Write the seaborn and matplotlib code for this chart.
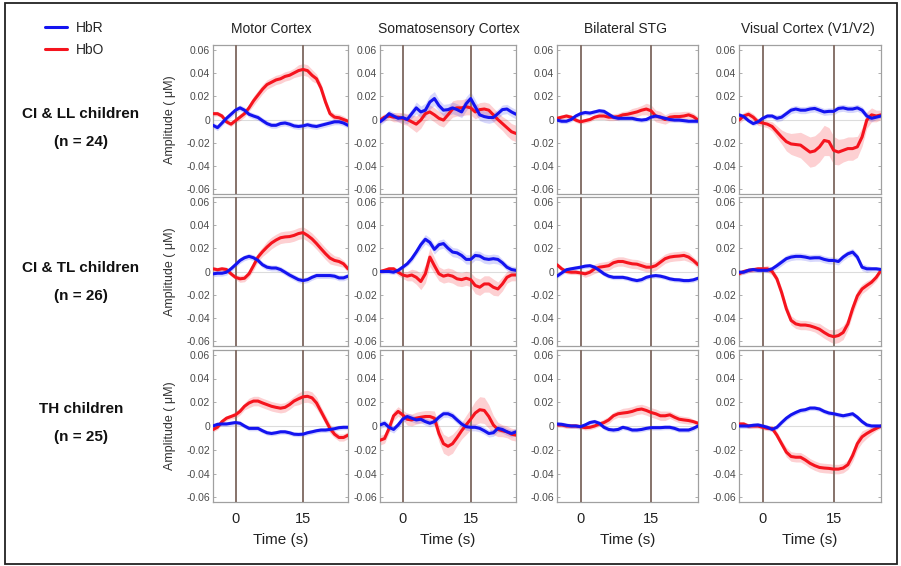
import numpy as np
import pandas as pd
import matplotlib
matplotlib.use('Agg')
import matplotlib.pyplot as plt
import seaborn as sns
from matplotlib.lines import Line2D
from matplotlib.patches import Rectangle

# time axis (s)
time_s = [-5, -4, -3, -2, -1, 0, 1, 2, 3, 4, 5, 6, 7, 8, 9, 10, 11, 12, 13, 14,
          15, 16, 17, 18, 19, 20, 21, 22, 23, 24, 25]

regions = ['Motor Cortex', 'Somatosensory Cortex', 'Bilateral STG', 'Visual Cortex (V1/V2)']
groups = ['CI & LL children', 'CI & TL children', 'TH children']
group_n = ['(n = 24)', '(n = 26)', '(n = 25)']

# all amplitudes below in 1e-3 uM (mean and standard error)
# --- CI & LL children
motor_ll_hbo = [5, 5, 3, -2, -4, -1, 2, 5, 10, 16, 21, 26, 30, 32, 34, 35, 37, 38, 40, 42, 43, 42, 38, 35, 27, 15, 5, 2, 1.5, 0, -1.5]
motor_ll_hbr = [-5, -7, -3, 1, 4.5, 8, 10, 8, 4.5, 3, 1.7, -1, -3.5, -5, -5, -3.5, -3, -4, -5.5, -6, -5.5, -4.5, -5.5, -6, -5, -4, -3, -2, -2, -3, -5]
motor_ll_hbo_se = [2, 2, 2, 2, 2, 2, 3, 3, 3, 4, 4, 4, 4, 4, 4, 4, 4, 4, 4, 5, 5, 5, 5, 4, 4, 4, 3, 3, 3, 3, 2]
motor_ll_hbr_se = [2.5, 2.5, 2.5, 2.5, 2.5, 2.5, 2.5, 2.5, 2.5, 2.5, 2.5, 2.5, 2.5, 2.5, 2.5, 2.5, 2.5, 2.5, 2.5, 2.5, 2.5, 2.5, 2.5, 2.5, 2.5, 2.5, 2.5, 2.5, 2.5, 2.5, 2.5]

soma_ll_hbo = [-0.5, 2, 3, 2, 2, 1, 0, -2, -4, -0.5, 5, 6.5, 4, 1, -0.5, 4, 9, 10, 10, 11, 10, 6.5, 8.5, 9, 8, 4, 0, -3.5, -7, -10.5, -12]
soma_ll_hbr = [-2, 1, 5, 3, 1, 1.7, 0, 5, 10, 6.5, 8, 15, 18, 12, 8, 8.5, 10, 8.5, 6.5, 13.5, 18, 11, 4, 2.5, 1.7, 1.7, 5, 8.5, 9, 6.5, 4.5]
soma_ll_hbo_se = [3, 3, 3, 4, 4, 5, 5, 6, 7, 7, 6, 6, 6, 6, 6, 6, 7, 7, 7, 7, 6, 6, 6, 6, 6, 6, 6, 6, 7, 7, 7]
soma_ll_hbr_se = [3, 3, 3, 3, 3, 4, 4, 4, 5, 5, 6, 6, 6, 5, 5, 5, 5, 5, 5, 6, 6, 6, 5, 5, 5, 4, 4, 4, 4, 4, 4]

stg_ll_hbo = [1, 2, 3, 2, -0.5, -2, -1, 0, 2, 3, 3, 2, 2, 2.5, 4, 4.5, 5.5, 6.5, 8, 9, 7.5, 3, 2, 0, 2, 2.5, 2.5, 3, 4, 2.5, -0.5]
stg_ll_hbr = [-0.5, -1.5, -1.5, 0, 3, 5, 6, 5.5, 6.5, 7.5, 7, 4.5, 2, 1, 1, 1, 1, 0, -0.5, 0, 2, 3, 2, 1, 0, -0.5, -0.5, -1, -1.5, -1.5, -1.5]
stg_ll_hbo_se = [2, 2, 2, 2, 2, 2, 2, 2, 2, 3, 3, 3, 3, 3, 3, 3, 4, 4, 4, 5, 5, 5, 5, 4, 4, 4, 4, 4, 3, 3, 3]
stg_ll_hbr_se = [2, 2, 2, 2, 2, 2, 2, 2, 2, 2, 2, 2, 2, 2, 2, 2, 2, 2, 2, 2, 2, 2, 2, 2, 2, 2, 2, 2, 2, 2, 2]

visual_ll_hbo = [-0.5, 3, 4.5, 2, -2, -3, -4, -6, -10.5, -15, -19, -21, -21.5, -22, -25, -28, -27, -23.5, -18, -19, -26.5, -28, -26.5, -25, -25, -23.5, -15, -0.5, 4, 3, 4]
visual_ll_hbr = [4, 2.5, -1, -3.5, -2, 1, 3, 3, 1, 2, 5, 8, 9, 8, 8, 9, 9.5, 8, 6.5, 7, 7, 9.5, 10, 9, 9, 10, 8, 3, 1, 2, 3]
visual_ll_hbo_se = [3, 3, 3, 3, 3, 3, 3, 4, 5, 6, 8, 9, 10, 11, 12, 13, 13, 13, 13, 12, 12, 11, 10, 10, 10, 9, 8, 7, 6, 5, 4]
visual_ll_hbr_se = [2, 2, 2, 2, 2, 2, 2, 2, 3, 3, 3, 3, 3, 3, 3, 3, 3, 3, 3, 3, 3, 3, 3, 3, 3, 3, 3, 3, 3, 2, 2]

# --- CI & TL children
motor_tl_hbo = [2.3, 1.5, 2.3, 1.7, -2, -5, -6.3, -5.8, -2, 5, 12.4, 17, 21, 24.5, 27, 29, 29.7, 30, 31, 32.6, 33.4, 31, 28, 24, 19.6, 15.3, 11.5, 9.5, 8.6, 6.6, 2.3]
motor_tl_hbr = [-2, -1.5, -1.5, -0.6, 2.3, 5.8, 9.5, 11.8, 13, 11.8, 9.5, 5.8, 3.7, 3, 3, 1.7, -0.6, -3, -5, -7, -7.8, -7, -5, -3.5, -3.5, -3.5, -3.5, -4, -5.5, -5.5, -4]
motor_tl_hbo_se = [2, 2, 2, 2, 2, 2, 3, 3, 3, 4, 4, 4, 5, 5, 5, 5, 5, 5, 5, 5, 5, 5, 5, 5, 5, 5, 5, 4, 4, 3, 3]
motor_tl_hbr_se = [2.5, 2.5, 2.5, 2.5, 2.5, 2.5, 2.5, 2.5, 2.5, 2.5, 2.5, 2.5, 2.5, 2.5, 2.5, 2.5, 2.5, 2.5, 2.5, 2.5, 2.5, 2.5, 2.5, 2.5, 2.5, 2.5, 2.5, 2.5, 2.5, 2.5, 2.5]

soma_tl_hbo = [0, 1, 2.3, 2.3, -0.6, -3, -4, -3, -5, -8.6, -2, 12.4, 5, -2, -4, -3, -4, -6.3, -7, -5.8, -7, -12, -13.5, -10.7, -10.7, -13.5, -15, -10.7, -5, -3, -3]
soma_tl_hbr = [0, 0, 0, -0.6, 1, 3.7, 6.6, 11, 16.7, 23, 27.7, 25, 19, 23, 24, 20, 16.7, 16, 13.8, 10.4, 10.4, 13.8, 13.3, 11, 10.4, 11, 10.4, 7.5, 3.7, 1.7, 1]
soma_tl_hbo_se = [2, 2, 2, 2, 3, 3, 4, 5, 6, 7, 8, 8, 7, 6, 6, 6, 6, 6, 6, 6, 6, 7, 7, 7, 7, 7, 6, 6, 5, 5, 5]
soma_tl_hbr_se = [2, 2, 2, 2, 2, 2, 2, 3, 3, 4, 4, 4, 4, 4, 4, 4, 4, 4, 4, 4, 4, 4, 4, 4, 4, 4, 4, 3, 3, 3, 3]

stg_tl_hbo = [5.8, 2.3, 0, -0.6, -0.6, -1.2, -2, -0.6, 2.3, 3.7, 4.3, 5, 7.5, 8.6, 8.6, 7.5, 6.6, 6.3, 5, 3.7, 3.7, 5, 8, 11, 12.4, 13, 13.3, 13.8, 12.4, 9.5, 5.8]
stg_tl_hbr = [-4, -1.2, 1.5, 2.3, 3, 3.7, 4.6, 5, 3.7, 1, -2, -4, -5, -5, -5, -5.8, -7, -7.8, -7, -5, -4, -3.5, -4, -5, -6.3, -7, -7.2, -7.8, -7.8, -7.2, -5.8]
stg_tl_hbo_se = [2, 2, 2, 2, 2, 2, 3, 3, 4, 4, 4, 4, 4, 4, 4, 4, 4, 4, 4, 4, 4, 4, 4, 4, 4, 4, 4, 4, 4, 3, 3]
stg_tl_hbr_se = [2, 2, 2, 2, 2, 2, 2, 2, 2, 2, 2, 2, 2, 2, 2, 2, 2, 2, 2, 2, 2, 2, 2, 2, 2, 2, 2, 2, 2, 2, 2]

visual_tl_hbo = [-2, 0, 1, 1.5, 2.3, 2.3, 2.3, 0, -6.3, -18, -32, -42, -45, -46, -46, -46.7, -48, -49.6, -52.4, -54.8, -56, -55, -52.4, -45, -32, -21, -15, -12, -9.2, -5, 1]
visual_tl_hbr = [-0.6, -0.6, 1, 1.7, 1, 1, 1, 2.3, 5, 8, 11, 12.4, 13, 13, 12.4, 11.5, 11.8, 11.8, 10.4, 9.5, 9.5, 8.6, 12.4, 15.2, 16.7, 12.4, 3.7, 2.3, 2.3, 2.3, 1.7]
visual_tl_hbo_se = [2, 2, 2, 2, 2, 2, 3, 3, 3, 4, 4, 4, 4, 4, 4, 4, 4, 5, 5, 5, 6, 6, 6, 5, 5, 5, 4, 4, 3, 3, 2]
visual_tl_hbr_se = [2, 2, 2, 2, 2, 2, 2, 2, 3, 3, 3, 3, 3, 3, 3, 3, 3, 3, 3, 3, 3, 3, 3, 3, 3, 3, 3, 3, 2, 2, 2]

# --- TH children
motor_th_hbo = [-3, -1, 3.7, 6.6, 8, 9.4, 12.3, 16.6, 19.4, 21, 21, 19.4, 18, 16.6, 15.7, 15, 15.7, 18, 21, 22.9, 24.6, 25, 23.7, 19.4, 12.3, 5.1, -2, -6.9, -9.7, -9.7, -7.7]
motor_th_hbr = [0, 1.4, 1.7, 1.7, 2.3, 2.9, 2.3, 0, -2, -2, -2, -4, -5.7, -6.3, -5.7, -4.9, -4.9, -5.7, -6.9, -7.1, -6.9, -5.7, -4.9, -4, -3.4, -3.4, -2.9, -2.3, -1.4, -1.1, -1.1]
motor_th_hbo_se = [2, 2, 2, 2, 2, 3, 3, 3, 4, 4, 4, 4, 4, 4, 4, 4, 4, 4, 4, 5, 5, 5, 5, 5, 4, 4, 4, 3, 3, 3, 3]
motor_th_hbr_se = [2, 2, 2, 2, 2, 2, 2, 2, 2, 2, 2, 2, 2, 2, 2, 2, 2, 2, 2, 2, 2, 2, 2, 2, 2, 2, 2, 2, 2, 2, 2]

soma_th_hbo = [-12, -10.6, -2, 8.6, 12.3, 9.4, 5.7, 5.1, 6.6, 7.4, 8, 8, 6.6, -6.3, -14.9, -17.1, -14.9, -9.7, -4, 0.9, 5.7, 10.9, 13.7, 13.1, 8, 0.9, -2.9, -4, -4.9, -6.9, -7.7]
soma_th_hbr = [0.9, 2.3, -1.1, -2.9, 0.9, 5.7, 8, 6.6, 5.1, 5.7, 3.7, 2.3, 3.7, 7.4, 10.3, 10.3, 8.6, 5.1, 1.7, -0.6, -1.1, -1.1, -2, -4, -6.3, -5.7, -2, -2.9, -4.9, -6.3, -4.9]
soma_th_hbo_se = [4, 4, 4, 4, 4, 4, 5, 5, 5, 5, 5, 5, 6, 7, 8, 8, 8, 7, 7, 8, 9, 10, 11, 11, 10, 8, 6, 5, 5, 5, 5]
soma_th_hbr_se = [3, 3, 3, 3, 3, 3, 3, 3, 3, 3, 3, 3, 3, 3, 3, 3, 3, 3, 3, 3, 3, 3, 3, 3, 3, 3, 3, 3, 3, 3, 3]

stg_th_hbo = [0.9, 0.9, 0, 0, 0, -0.6, -1.4, -1.1, 0, 1.7, 2.9, 5.1, 8.6, 10.3, 10.9, 11.4, 12.3, 13.7, 14.3, 13.1, 11.4, 10.3, 8.6, 8.6, 9.4, 7.4, 5.7, 5.1, 4.6, 3.7, 2.3]
stg_th_hbr = [1.7, 1.4, 0.6, 0, 0, -0.6, 0.9, 2.9, 3.7, 2.3, -1.1, -2.9, -3.4, -2.9, -1.1, -2, -3.4, -3.4, -2.9, -2, -1.4, -1.4, -1.4, -1.1, -1.1, -2, -3.4, -3.4, -3.4, -2, 0]
stg_th_hbo_se = [2, 2, 2, 2, 2, 2, 2, 2, 2, 2, 3, 3, 3, 3, 4, 4, 4, 4, 4, 4, 4, 4, 4, 4, 3, 3, 3, 3, 3, 2, 2]
stg_th_hbr_se = [2, 2, 2, 2, 2, 2, 2, 2, 2, 2, 2, 2, 2, 2, 2, 2, 2, 2, 2, 2, 2, 2, 2, 2, 2, 2, 2, 2, 2, 2, 2]

visual_th_hbo = [1.7, 1.7, 0, 0, 0, -1.1, -2, -2, -7.7, -14.9, -22, -25.7, -26.3, -26.3, -28.6, -31.4, -33.4, -34.9, -35.4, -35.7, -36.3, -36.3, -35.4, -32.6, -24.9, -14.9, -9.1, -6.3, -4, -2, 0]
visual_th_hbr = [0, 0, 0, 0.6, 0.9, 0, -1.1, -2.9, -1.1, 2.9, 6.6, 9.4, 11.4, 13.1, 13.7, 15.1, 15.1, 14.3, 12.3, 10.9, 10.3, 9.4, 8.6, 9.4, 10.3, 7.4, 3.7, 0.9, 0, 0, 0]
visual_th_hbo_se = [2, 2, 2, 2, 2, 2, 2, 2, 3, 3, 4, 4, 4, 4, 4, 4, 4, 4, 4, 4, 4, 4, 4, 4, 5, 5, 5, 4, 3, 2, 2]
visual_th_hbr_se = [2, 2, 2, 2, 2, 2, 2, 2, 2, 2, 2, 2, 2, 2, 2, 2, 2, 2, 2, 2, 2, 2, 2, 2, 2, 2, 2, 2, 2, 2, 2]

panels = [
    [(motor_ll_hbo, motor_ll_hbo_se, motor_ll_hbr, motor_ll_hbr_se),
     (soma_ll_hbo, soma_ll_hbo_se, soma_ll_hbr, soma_ll_hbr_se),
     (stg_ll_hbo, stg_ll_hbo_se, stg_ll_hbr, stg_ll_hbr_se),
     (visual_ll_hbo, visual_ll_hbo_se, visual_ll_hbr, visual_ll_hbr_se)],
    [(motor_tl_hbo, motor_tl_hbo_se, motor_tl_hbr, motor_tl_hbr_se),
     (soma_tl_hbo, soma_tl_hbo_se, soma_tl_hbr, soma_tl_hbr_se),
     (stg_tl_hbo, stg_tl_hbo_se, stg_tl_hbr, stg_tl_hbr_se),
     (visual_tl_hbo, visual_tl_hbo_se, visual_tl_hbr, visual_tl_hbr_se)],
    [(motor_th_hbo, motor_th_hbo_se, motor_th_hbr, motor_th_hbr_se),
     (soma_th_hbo, soma_th_hbo_se, soma_th_hbr, soma_th_hbr_se),
     (stg_th_hbo, stg_th_hbo_se, stg_th_hbr, stg_th_hbr_se),
     (visual_th_hbo, visual_th_hbo_se, visual_th_hbr, visual_th_hbr_se)],
]

sns.set_theme(style='white')
plt.rcParams['font.family'] = ['Liberation Sans', 'DejaVu Sans']

W, H = 901, 566
fig = plt.figure(figsize=(W / 100, H / 100), dpi=100)
fig.patch.set_facecolor('white')

red = '#f5141e'
blue = '#1414f0'
stim_col = '#86726a'
spine_col = '#a0a0a0'

col_left = [213, 380, 557, 739]
col_right = [348, 516, 698, 881]
row_top = [45, 197, 350]
row_bot = [194, 346, 502]
yticks = [0.06, 0.04, 0.02, 0, -0.02, -0.04, -0.06]
ytick_lbl = ['0.06', '0.04', '0.02', '0', '-0.02', '-0.04', '-0.06']

for r in range(3):
    for c in range(4):
        l, rr = col_left[c], col_right[c]
        t, b = row_top[r], row_bot[r]
        ax = fig.add_axes([l / W, 1 - b / H, (rr - l) / W, (b - t) / H])
        hbo, hbo_se, hbr, hbr_se = panels[r][c]
        df = pd.DataFrame({'time': time_s,
                           'HbO': np.array(hbo) * 1e-3, 'HbO_se': np.array(hbo_se) * 1e-3,
                           'HbR': np.array(hbr) * 1e-3, 'HbR_se': np.array(hbr_se) * 1e-3})

        ax.axhline(0, color='#dcdcdc', lw=0.8, zorder=1)
        ax.fill_between(df['time'], df['HbO'] - df['HbO_se'], df['HbO'] + df['HbO_se'],
                        color=red, alpha=0.2, lw=0, zorder=2)
        ax.fill_between(df['time'], df['HbR'] - df['HbR_se'], df['HbR'] + df['HbR_se'],
                        color=blue, alpha=0.17, lw=0, zorder=2)
        ax.axvline(0, color=stim_col, lw=1.4, zorder=3)
        ax.axvline(15, color=stim_col, lw=1.4, zorder=3)
        sns.lineplot(data=df, x='time', y='HbO', color=red, lw=2.2, ax=ax, zorder=4)
        sns.lineplot(data=df, x='time', y='HbR', color=blue, lw=2.2, ax=ax, zorder=5)

        ax.set_xlim(-5, 25)
        ax.set_ylim(-0.064, 0.064)
        ax.set_yticks(yticks)
        ax.set_yticklabels(ytick_lbl)
        ax.set_xticks([0, 15])
        ax.tick_params(axis='y', direction='in', length=2, width=0.6, color=spine_col,
                       labelsize=7.5, labelcolor='#4a4a4a', pad=2, left=True, right=True)
        ax.tick_params(axis='x', length=0, labelsize=10.5, labelcolor='#222222', pad=7)
        for s in ax.spines.values():
            s.set_color(spine_col)
            s.set_linewidth(0.9)

        if r == 2:
            ax.set_xticklabels(['0', '15'])
            ax.set_xlabel('Time (s)', fontsize=11, color='#222222', labelpad=5)
        else:
            ax.set_xticklabels([])
            ax.set_xlabel('')
        if c == 0:
            ax.set_ylabel('Amplitude ( \u03bcM)', fontsize=9, color='#333333')
            ax.yaxis.set_label_coords(-0.275, 0.5)
        else:
            ax.set_ylabel('')

# column titles
title_x = [271, 449, 626, 808]
for c in range(4):
    fig.text(title_x[c] / W, 1 - 29 / H, regions[c], ha='center', va='center',
             fontsize=10, color='#222222')

# group labels
lab_y = [114, 268, 409]
for r in range(3):
    fig.text(81 / W, 1 - lab_y[r] / H, groups[r], ha='center', va='center',
             fontsize=11, fontweight='bold', color='#111111')
    fig.text(81 / W, 1 - (lab_y[r] + 28) / H, group_n[r], ha='center', va='center',
             fontsize=11, fontweight='bold', color='#111111')

# legend
handles = [Line2D([0], [0], color=blue, lw=2.2), Line2D([0], [0], color=red, lw=2.2)]
fig.legend(handles, ['HbR', 'HbO'], loc='upper left', bbox_to_anchor=(45 / W, 1 - 21 / H),
           frameon=False, fontsize=10, handlelength=1.6, handletextpad=0.6,
           labelspacing=0.55, borderaxespad=0, borderpad=0)

# outer frame
fig.add_artist(Rectangle((5 / W, 1 - 564 / H), 892 / W, 561 / H, transform=fig.transFigure,
                         fill=False, edgecolor='#222222', lw=1.3))

fig.savefig('out.png', dpi=100, facecolor='white')
